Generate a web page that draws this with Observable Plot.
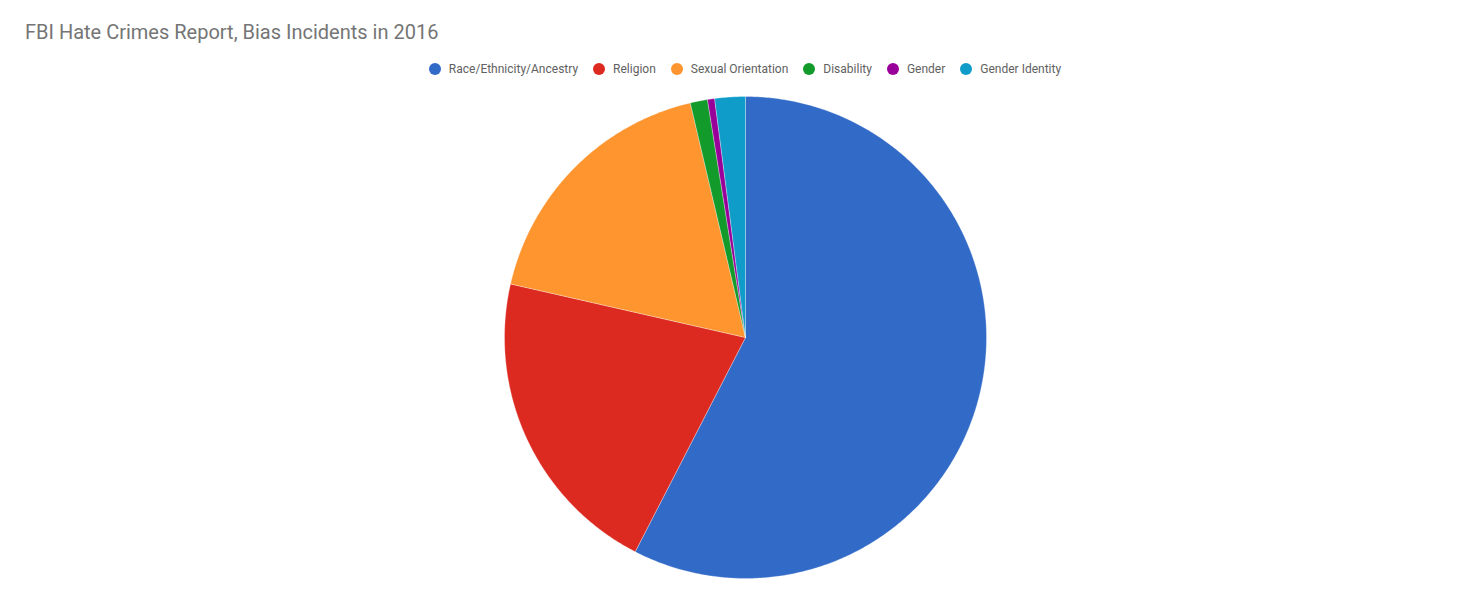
<!DOCTYPE html>
<html>
<head>
<meta charset="utf-8">
<script src="https://cdn.jsdelivr.net/npm/d3@7"></script>
<script src="https://cdn.jsdelivr.net/npm/@observablehq/plot@0.6"></script>
<style>
  html, body { margin: 0; padding: 0; background: #fff; }
  body { width: 1478px; height: 603px; position: relative; overflow: hidden; font-family: Roboto, "Noto Sans", sans-serif; }
  #title { position: absolute; left: 25px; top: 20px; font-size: 20px; line-height: 24px; color: #757575; white-space: nowrap; }
  #legend { position: absolute; left: 0; top: 62px; width: 1478px; display: flex; justify-content: center; padding-left: 12px; box-sizing: border-box; font-size: 12px; color: #616161; }
  .item { display: flex; align-items: center; margin: 0 7.5px; }
  .sw { width: 12px; height: 12px; border-radius: 50%; margin-right: 8px; }
  #chart { position: absolute; left: 0; top: 90px; }
</style>
</head>
<body>
<div id="title"></div>
<div id="legend"></div>
<div id="chart"></div>
<script>
const title = "FBI Hate Crimes Report, Bias Incidents in 2016";
const categories = ["Race/Ethnicity/Ancestry", "Religion", "Sexual Orientation", "Disability", "Gender", "Gender Identity"];
const incidents = [3489, 1273, 1076, 70, 29, 124];
const colors = ["#316ac7", "#dc2a21", "#fe952f", "#129a2b", "#990099", "#0f9cc9"];

document.getElementById("title").textContent = title;
const legend = document.getElementById("legend");
categories.forEach((c, i) => {
  const it = document.createElement("div");
  it.className = "item";
  const sw = document.createElement("div");
  sw.className = "sw";
  sw.style.background = colors[i];
  const t = document.createElement("span");
  t.textContent = c;
  it.appendChild(sw); it.appendChild(t);
  legend.appendChild(it);
});

const rows = categories.map((c, i) => ({category: c, value: incidents[i]}));
const arcs = d3.pie().sort(null).value(d => d.value)(rows);

// build wedge outlines (unit radius) from pie angles
const pts = [];
for (const a of arcs) {
  const cat = a.data.category;
  pts.push({category: cat, x: 0, y: 0});
  const n = Math.max(2, Math.ceil((a.endAngle - a.startAngle) / (Math.PI / 360)));
  for (let k = 0; k <= n; k++) {
    const t = a.startAngle + (a.endAngle - a.startAngle) * k / n;
    pts.push({category: cat, x: Math.sin(t), y: Math.cos(t)});
  }
  pts.push({category: cat, x: 0, y: 0});
}

const W = 1478, H = 513, R = 241, cx = 745, cy = 247;
const plot = Plot.plot({
  width: W,
  height: H,
  margin: 0,
  x: {domain: [-cx / R, (W - cx) / R], range: [0, W], axis: null},
  y: {domain: [-(H - cy) / R, cy / R], range: [H, 0], axis: null},
  color: {domain: categories, range: colors},
  marks: [
    Plot.line(pts, {x: "x", y: "y", z: "category", fill: "category", stroke: "#ffffff", strokeWidth: 0.5, strokeOpacity: 0.6, curve: "linear"})
  ]
});
document.getElementById("chart").appendChild(plot);
</script>
</body>
</html>
